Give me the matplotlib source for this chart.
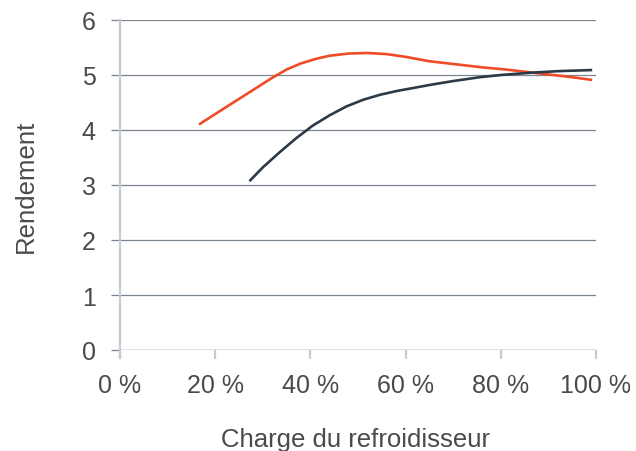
import matplotlib
matplotlib.use("Agg")
import matplotlib.pyplot as plt

# Data
x_ticks = [0, 20, 40, 60, 80, 100]
x_tick_labels = ["0 %", "20 %", "40 %", "60 %", "80 %", "100 %"]
y_ticks = [0, 1, 2, 3, 4, 5, 6]

orange_x = [16.6, 20, 24, 28, 32, 35, 38, 41, 44, 48, 52, 56, 60, 65, 70, 76, 81, 86, 91, 95, 99.2]
orange_y = [4.10, 4.29, 4.51, 4.73, 4.95, 5.10, 5.21, 5.29, 5.35, 5.39, 5.40, 5.38, 5.33, 5.25, 5.20, 5.14, 5.10, 5.05, 5.00, 4.96, 4.91]

dark_x = [27.2, 30, 33.6, 37, 40.5, 44.1, 47.6, 51.1, 54.6, 58.2, 62, 65.1, 70, 75.6, 80, 86.1, 92, 99.2]
dark_y = [3.07, 3.32, 3.60, 3.85, 4.08, 4.27, 4.43, 4.55, 4.64, 4.71, 4.77, 4.82, 4.89, 4.96, 5.00, 5.04, 5.07, 5.09]

ORANGE = "#ef4b26"
DARK = "#2b3a46"
GRID = "#7b8590"
SPINE = "#c6cbd1"
TEXT = "#4a4a4a"

plt.rcParams['font.family'] = ['Liberation Sans', 'DejaVu Sans']

fig = plt.figure(figsize=(6.36, 4.52), dpi=100)
ax = fig.add_axes([120/636, 1-351/452, 476/636, 330/452])

ax.plot(orange_x, orange_y, color=ORANGE, lw=1.9, solid_capstyle='butt', zorder=3)
ax.plot(dark_x, dark_y, color=DARK, lw=1.9, solid_capstyle='butt', zorder=3)

ax.set_xlim(0, 100)
ax.set_ylim(0, 6)
ax.set_xticks(x_ticks)
ax.set_xticklabels(x_tick_labels)
ax.set_yticks(y_ticks)

for s in ['top', 'right', 'bottom']:
    ax.spines[s].set_visible(False)
ax.spines['left'].set_color(SPINE)
ax.spines['left'].set_linewidth(1.6)
ax.spines['left'].set_bounds(-0.15, 6.0)

ax.yaxis.grid(True, color=GRID, lw=0.9)
ax.set_axisbelow(True)
ax.axhline(0, color=GRID, lw=0.9, zorder=1)

ax.tick_params(axis='y', length=6.5, width=0.9, color=GRID, pad=11, labelsize=18, labelcolor=TEXT)
ax.tick_params(axis='x', length=6.5, width=1.6, color=SPINE, pad=10, labelsize=18, labelcolor=TEXT)

ax.set_ylabel("Rendement", fontsize=18.5, color=TEXT, va='center')
ax.set_xlabel("Charge du refroidisseur", fontsize=18.5, color=TEXT, va='center')
ax.yaxis.set_label_coords((26 - 120) / 476, 0.5)
ax.xaxis.set_label_coords(0.495, (351 - 440) / 330)

fig.savefig("out.png", dpi=100)
